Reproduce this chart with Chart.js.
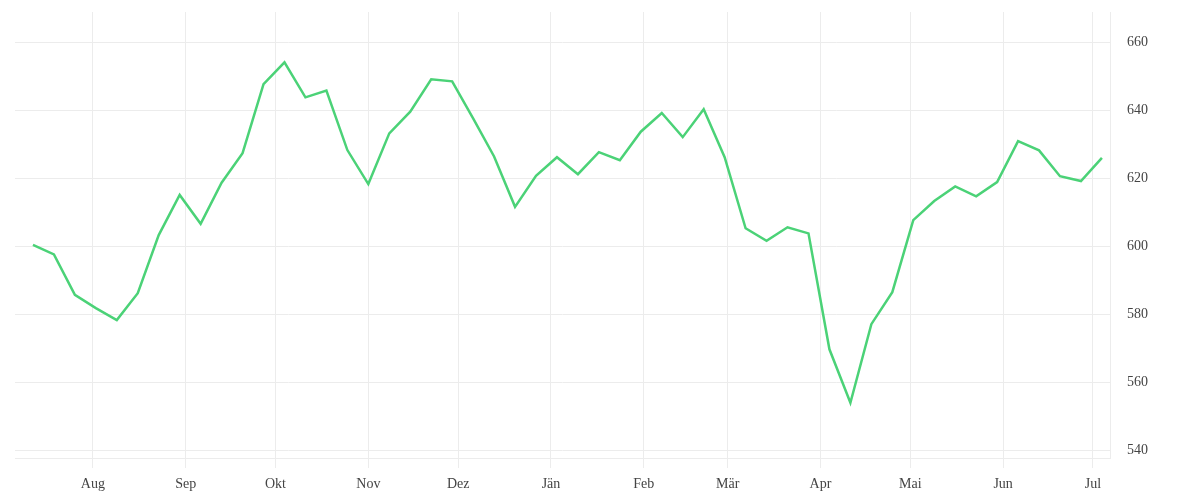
<!DOCTYPE html>
<html>
<head>
<meta charset="utf-8">
<script src="https://cdn.jsdelivr.net/npm/chart.js@4"></script>
<style>
  html, body { margin: 0; padding: 0; background: #fff; }
  #wrap { width: 1200px; height: 500px; }
</style>
</head>
<body>
<div id="wrap"><canvas id="lineChart"></canvas></div>
<script>
// weekly observations
const weeks = [
    '2022-07-12', '2022-07-19', '2022-07-26', '2022-08-02', '2022-08-09', '2022-08-16',
    '2022-08-23', '2022-08-30', '2022-09-06', '2022-09-13', '2022-09-20', '2022-09-27',
    '2022-10-04', '2022-10-11', '2022-10-18', '2022-10-25', '2022-11-01', '2022-11-08',
    '2022-11-15', '2022-11-22', '2022-11-29', '2022-12-06', '2022-12-13', '2022-12-20',
    '2022-12-27', '2023-01-03', '2023-01-10', '2023-01-17', '2023-01-24', '2023-01-31',
    '2023-02-07', '2023-02-14', '2023-02-21', '2023-02-28', '2023-03-07', '2023-03-14',
    '2023-03-21', '2023-03-28', '2023-04-04', '2023-04-11', '2023-04-18', '2023-04-25',
    '2023-05-02', '2023-05-09', '2023-05-16', '2023-05-23', '2023-05-30', '2023-06-06',
    '2023-06-13', '2023-06-20', '2023-06-27', '2023-07-04'
];
const values = [
    600.4, 597.6, 585.7, 581.8, 578.3, 586.2, 603.3, 615.1, 606.6, 618.7,
    627.4, 647.7, 654.1, 643.8, 645.8, 628.3, 618.3, 633.2, 639.6, 649.1,
    648.5, 637.6, 626.4, 611.6, 620.7, 626.2, 621.2, 627.7, 625.3, 633.7,
    639.2, 632.1, 640.3, 626.2, 605.3, 601.6, 605.6, 603.8, 569.7, 554.0,
    577.1, 586.5, 607.7, 613.3, 617.6, 614.7, 618.9, 630.9, 628.2, 620.6,
    619.2, 626.0
];
const monthStarts = [
    '2022-08-01', '2022-09-01', '2022-10-01', '2022-11-01', '2022-12-01', '2023-01-01',
    '2023-02-01', '2023-03-01', '2023-04-01', '2023-05-01', '2023-06-01', '2023-07-01'
];
const monthLabels = ['Aug', 'Sep', 'Okt', 'Nov', 'Dez', 'Jän', 'Feb', 'Mär', 'Apr', 'Mai', 'Jun', 'Jul'];
const yTicks = [540, 560, 580, 600, 620, 640, 660];

document.addEventListener('DOMContentLoaded', function() {
    const DAY = 86400000;
    const origin = Date.parse('2022-08-01');
    const toDay = s => (Date.parse(s) - origin) / DAY;

    const gridColor = '#ececec';
    const tickFont = { family: '"Liberation Serif", "DejaVu Serif", serif', size: 14 };

    new Chart(document.getElementById('lineChart').getContext('2d'), {
        type: 'line',
        data: {
            datasets: [{
                data: weeks.map((w, i) => ({ x: toDay(w), y: values[i] })),
                borderColor: '#4bd277',
                borderWidth: 2.5,
                pointRadius: 0,
                tension: 0,
                fill: false
            }]
        },
        options: {
            responsive: true,
            maintainAspectRatio: false,
            animation: false,
            layout: { padding: { left: 15, top: 12, right: 0, bottom: 0 } },
            plugins: { legend: { display: false }, tooltip: { enabled: false } },
            scales: {
                x: {
                    type: 'linear',
                    min: -26,
                    max: 339.7,
                    afterBuildTicks: scale => { scale.ticks = monthStarts.map(m => ({ value: toDay(m) })); },
                    afterFit: scale => {
                        scale.height = 42;
                        scale.paddingLeft = 0;
                        scale.paddingRight = 0;
                    },
                    ticks: {
                        autoSkip: false,
                        maxRotation: 0,
                        padding: 8,
                        color: '#444',
                        font: tickFont,
                        callback: (value, index) => monthLabels[index]
                    },
                    grid: { color: gridColor, tickLength: 10, tickColor: gridColor },
                    border: { display: true, color: gridColor }
                },
                y: {
                    position: 'right',
                    min: 537.74,
                    max: 668.9,
                    afterBuildTicks: scale => { scale.ticks = yTicks.map(v => ({ value: v })); },
                    afterFit: scale => {
                        scale.width = 90;
                        scale.paddingTop = 0;
                        scale.paddingBottom = 0;
                    },
                    ticks: { padding: 17, color: '#444', font: tickFont },
                    grid: { color: gridColor, drawTicks: false },
                    border: { display: true, color: gridColor }
                }
            }
        }
    });
});
</script>
</body>
</html>
